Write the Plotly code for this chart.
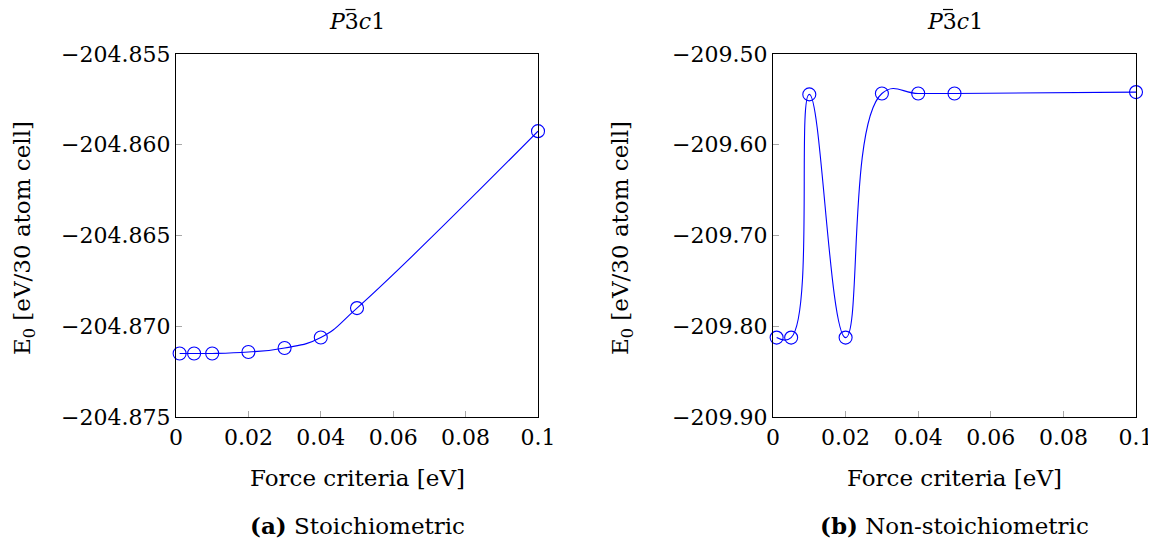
import plotly.graph_objects as go

force = [0.001, 0.005, 0.01, 0.02, 0.03, 0.04, 0.05, 0.1]
e_stoich = [-204.8715, -204.8715, -204.8715, -204.87142, -204.87120, -204.87062, -204.86900, -204.85925]
e_nonstoich = [-209.8125, -209.8125, -209.5445, -209.8125, -209.5435, -209.5435, -209.5435, -209.5420]

x_ticks = [0, 0.02, 0.04, 0.06, 0.08, 0.1]
x_ticklabels = ["0", "0.02", "0.04", "0.06", "0.08", "0.1"]
y1_ticks = [-204.875, -204.870, -204.865, -204.860, -204.855]
y2_ticks = [-209.90, -209.80, -209.70, -209.60, -209.50]

FONT = "DejaVu Serif"
FS = 22
BLUE = "#0000ff"

W, H = 1156, 546
OFF = 8  # page body margin
ML, MR, MT, MB = 30, 10, 30, 10
PW, PH = W - ML - MR, H - MT - MB


def px(xp):
    return (xp - OFF - ML) / PW


def py(yp):
    return (H - MB - (yp - OFF)) / PH


dom_x1 = [px(176), px(538)]
dom_x2 = [px(773), px(1136)]
dom_y = [py(417), py(54)]

fig = go.Figure()
for xa, ya, yvals in [("x", "y", e_stoich), ("x2", "y2", e_nonstoich)]:
    fig.add_trace(go.Scatter(
        x=force, y=yvals, xaxis=xa, yaxis=ya, mode="lines+markers",
        line=dict(color=BLUE, width=1.1, shape="spline", smoothing=1.3),
        marker=dict(symbol="circle-open", size=13, color=BLUE, line=dict(width=1.1, color=BLUE)),
        cliponaxis=False, showlegend=False,
    ))

axis_common = dict(
    showgrid=False, zeroline=False, showline=True, linecolor="black", linewidth=1.2,
    mirror=True, ticks="inside", ticklen=6, tickcolor="#a8a8a8", tickwidth=1,
    tickfont=dict(family=FONT, size=FS, color="black"), automargin=False,
)

fig.update_layout(
    width=W, height=H, margin=dict(l=ML, r=MR, t=MT, b=MB, autoexpand=False),
    paper_bgcolor="white", plot_bgcolor="white",
    xaxis=dict(domain=dom_x1, range=[0, 0.1], tickvals=x_ticks, ticktext=x_ticklabels, anchor="y", **axis_common),
    yaxis=dict(domain=dom_y, range=[-204.875, -204.855], tickvals=y1_ticks, tickformat=".3f", anchor="x", **axis_common),
    xaxis2=dict(domain=dom_x2, range=[0, 0.1], tickvals=x_ticks, ticktext=x_ticklabels, anchor="y2", **axis_common),
    yaxis2=dict(domain=dom_y, range=[-209.90, -209.50], tickvals=y2_ticks, tickformat=".2f", anchor="x2", **axis_common),
)


def ann(text, x, y, angle=0, size=FS):
    fig.add_annotation(text=text, x=px(x), y=py(y), xref="paper", yref="paper",
                       showarrow=False, textangle=angle, xanchor="center", yanchor="middle",
                       font=dict(family=FONT, size=size, color="black"))


title_txt = "<i>P</i>3<i>c</i>1"
for cx, ylab_x, cap in [(357, 24, "<b>(a)</b> Stoichiometric"), (954.5, 622, "<b>(b)</b> Non-stoichiometric")]:
    ann(title_txt, cx, 22)
    # bar over the "3" of the space-group symbol
    fig.add_shape(type="line", xref="paper", yref="paper",
                  x0=px(cx - 11.5), x1=px(cx - 1.5), y0=py(9.5), y1=py(9.5),
                  line=dict(color="black", width=1.2))
    ann("Force criteria [eV]", cx, 478, size=23)
    ann(cap, cx, 525, size=23)
    ann("E<sub>0</sub> [eV/30 atom cell]", ylab_x, 238, angle=-90, size=23)

fig.write_html("out.html")
